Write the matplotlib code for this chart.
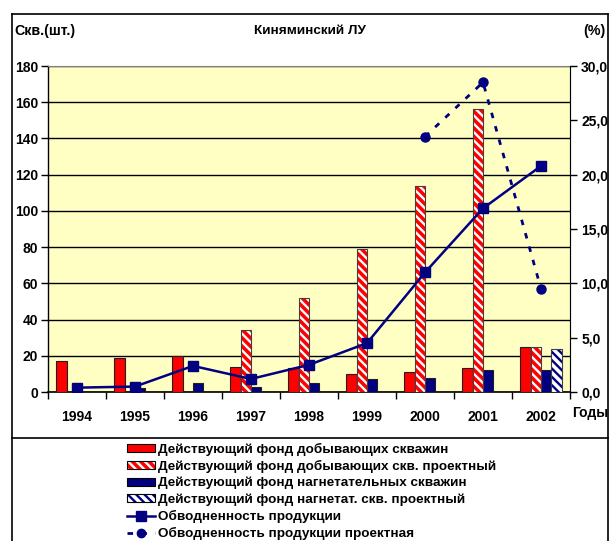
import numpy as np
import matplotlib
matplotlib.use("Agg")
import matplotlib.pyplot as plt
from matplotlib.lines import Line2D
from matplotlib.patches import Patch
from matplotlib.ticker import FuncFormatter, MultipleLocator

plt.rcParams['font.family'] = ['Liberation Sans', 'DejaVu Sans']
plt.rcParams['font.weight'] = 'bold'
plt.rcParams['hatch.linewidth'] = 1.7

years = ['1994', '1995', '1996', '1997', '1998', '1999', '2000', '2001', '2002']
prod_fact = [17, 19, 20, 14, 13, 10, 11, 13, 25]
prod_proj = [0, 0, 0, 34, 52, 79, 114, 156, 25]
inj_fact = [0, 2, 5, 3, 5, 7, 8, 12, 12]
inj_proj = [0, 0, 0, 0, 0, 0, 0, 0, 24]
water_fact = [0.4, 0.5, 2.4, 1.2, 2.5, 4.5, 11.0, 16.9, 20.8]
water_proj = [np.nan, np.nan, np.nan, np.nan, np.nan, np.nan, 23.5, 28.5, 9.5]

labels = ['Действующий фонд добывающих скважин',
          'Действующий фонд добывающих скв. проектный',
          'Действующий фонд нагнетательных скважин',
          'Действующий фонд нагнетат. скв. проектный',
          'Обводненность продукции',
          'Обводненность продукции проектная']

RED = '#FF0000'
NAVY = '#000080'
BG = '#FFFFC4'

W, H = 614, 541
fig = plt.figure(figsize=(W / 100, H / 100), dpi=100)
fig.patch.set_facecolor('white')


def fx(px):
    return px / W


def fy(py):
    return 1 - py / H


ax = fig.add_axes([fx(48), fy(392), fx(570) - fx(48), fy(66) - fy(392)])
ax.set_facecolor(BG)
x = np.arange(len(years))
bw = 0.18
offs = [-1.5 * bw, -0.5 * bw, 0.5 * bw, 1.5 * bw]


def draw(vals, off, face, hatch_col=None):
    xs = np.array([xi for xi, v in zip(x, vals) if v > 0]) + off
    vs = [v for v in vals if v > 0]
    if hatch_col is None:
        ax.bar(xs, vs, bw, color=face, edgecolor='#202020', linewidth=0.8, zorder=3)
    else:
        ax.bar(xs, vs, bw, color=face, edgecolor=hatch_col, hatch='\\\\\\\\', linewidth=0, zorder=3)
        ax.bar(xs, vs, bw, fill=False, edgecolor='#404040', linewidth=0.8, zorder=4)


draw(prod_fact, offs[0], RED)
draw(prod_proj, offs[1], RED, 'white')
draw(inj_fact, offs[2], NAVY)
draw(inj_proj, offs[3], 'white', NAVY)

ax.set_xlim(-0.5, len(years) - 0.5)
ax.set_ylim(0, 180)
ax.yaxis.set_major_locator(MultipleLocator(20))
ax.set_axisbelow(True)
ax.yaxis.grid(True, color='black', linewidth=1.0)
ax.set_xticks(np.arange(-0.5, len(years), 1.0))
ax.set_xticklabels([])
ax.set_xticks(x, minor=True)
ax.set_xticklabels(years, minor=True)
ax.tick_params(axis='x', which='minor', length=0, pad=13, labelsize=10)
ax.tick_params(axis='x', which='major', length=5, width=1, direction='out')
ax.tick_params(axis='y', length=5, width=1, direction='out', labelsize=10, pad=2)
for s in ['top', 'right']:
    ax.spines[s].set_color('#808080')
ax.spines['left'].set_linewidth(1.0)
ax.spines['bottom'].set_linewidth(1.2)

ax2 = ax.twinx()
ax2.set_ylim(0, 30)
ax2.yaxis.set_major_locator(MultipleLocator(5))
ax2.yaxis.set_major_formatter(FuncFormatter(lambda v, p: f"{v:.1f}".replace('.', ',')))
ax2.tick_params(axis='y', length=5, width=1, direction='out', labelsize=10, pad=3)
ax2.spines['right'].set_color('black')
ax2.spines['top'].set_visible(False)
ax2.spines['left'].set_visible(False)
ax2.spines['bottom'].set_visible(False)

ax2.plot(x, water_fact, color=NAVY, linewidth=1.8, marker='s', markersize=7.5,
         markerfacecolor=NAVY, markeredgecolor=NAVY, zorder=5)
ax2.plot(x, water_proj, color=NAVY, linewidth=2.0, linestyle=(0, (2, 3)),
         marker='o', markersize=6.5, markerfacecolor=NAVY, markeredgecolor=NAVY, zorder=5)

fig.text(fx(14), fy(31), 'Скв.(шт.)', fontsize=10.3, ha='left', va='center')
fig.text(fx(310), fy(31), 'Киняминский ЛУ', fontsize=9.7, ha='center', va='center')
fig.text(fx(606), fy(31), '(%)', fontsize=10.3, ha='right', va='center')
fig.text(fx(590), fy(413), 'Годы', fontsize=10, ha='center', va='center')

# outer frame and separator
fig.add_artist(Line2D([fx(12), fx(12)], [fy(14), 0], color='black', linewidth=1.2))
fig.add_artist(Line2D([fx(608), fx(608)], [fy(14), 0], color='black', linewidth=1.2))
fig.add_artist(Line2D([fx(12), fx(608)], [fy(14), fy(14)], color='black', linewidth=1.2))
fig.add_artist(Line2D([fx(12), fx(608)], [fy(438), fy(438)], color='black', linewidth=1.2))

h1 = Patch(facecolor=RED, edgecolor='black', linewidth=0.8)
h2 = (Patch(facecolor=RED, edgecolor='white', hatch='\\\\\\\\', linewidth=0),
      Patch(fill=False, edgecolor='black', linewidth=0.8))
h3 = Patch(facecolor=NAVY, edgecolor='black', linewidth=0.8)
h4 = (Patch(facecolor='white', edgecolor=NAVY, hatch='\\\\\\\\', linewidth=0),
      Patch(fill=False, edgecolor='black', linewidth=0.8))
h5 = Line2D([], [], color=NAVY, linewidth=1.8, marker='s', markersize=7)
h6 = Line2D([], [], color=NAVY, linewidth=2.0, linestyle=(0, (2, 3)), marker='o', markersize=6)

fig.legend([h1, h2, h3, h4, h5, h6], labels, loc='upper left',
           bbox_to_anchor=(fx(124), fy(440)), frameon=False,
           prop={'size': 9.7, 'weight': 'bold'},
           handlelength=2.1, handleheight=0.55, handletextpad=0.25,
           labelspacing=0.3, borderpad=0.2, borderaxespad=0)

fig.savefig('out.png', dpi=100)
